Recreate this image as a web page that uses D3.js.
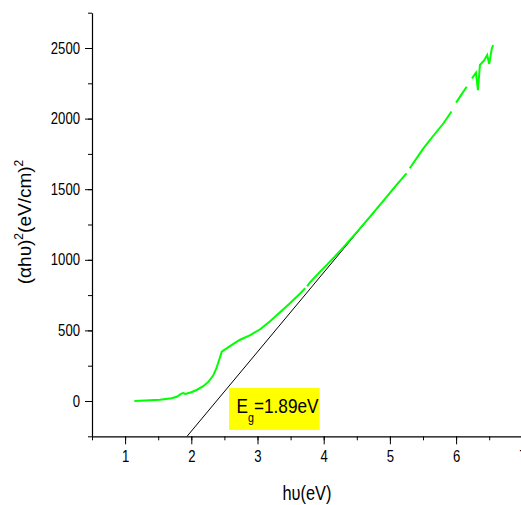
<!DOCTYPE html>
<html lang="en">
<head>
    <title>Tauc plot</title>
    <meta charset="utf-8">
    <script src="https://d3js.org/d3.v7.min.js"></script>
    <style>
        body { margin: 0; background: #fff; }
        text { font-family: "Liberation Sans", Arial, sans-serif; fill: #000; }
    </style>
</head>
<body>
<div id="chart"></div>
<script>
    // measured curve (alpha*h*nu)^2 vs photon energy, null = gap in the trace
    const energy = [1.14, 1.30, 1.53, 1.70, 1.78, 1.85, 1.88, 1.91, 2.00, 2.08, 2.18, 2.26, 2.33, 2.38, 2.42, 2.46,
        2.59, 2.73, 2.89, 3.04, 3.19, 3.34, 3.49, 3.64, 3.72, 3.73, 3.75, 3.79, 3.92, 4.05, 4.15, 4.30, 4.50, 4.70, 4.90, 5.10, 5.25,
        5.27, 5.30, 5.50, 5.65, 5.81, 5.93, 5.96, 6.00, 6.08, 6.16, 6.20, 6.24, 6.30, 6.33, 6.36, 6.42, 6.47, 6.50, 6.54, 6.56];
    const absorb = [0, 3, 9, 20, 30, 52, 56, 50, 62, 78, 105, 137, 180, 232, 290, 349,
        390, 432, 467, 508, 565, 628, 692, 760, 798, null, 812, 838, 903, 966, 1014, 1090, 1196, 1306, 1418, 1530, 1612,
        null, 1648, 1785, 1875, 1967, 2050, null, 2113, 2170, 2226, null, 2285, 2325, 2202, 2380, 2410, 2450, 2387, 2498, 2521];

    // linear extrapolation line
    const fitX = [1.936, 5.228];
    const fitY = [-250, 1600];

    const xTicks = [1, 2, 3, 4, 5, 6, 7];
    const yTicks = [0, 500, 1000, 1500, 2000, 2500];
    const gapLabel = "=1.89eV";
    // annotation box corners in data units
    const boxX = [2.57, 3.94];
    const boxY = [92, -205];

    const W = 521, H = 505;
    const margin = {top: 12.7, right: -1.3, bottom: 68.7, left: 92};
    const width = W - margin.left - margin.right,
        height = H - margin.top - margin.bottom;
    const narrow = 0.82; // condensed look of the original lettering

    const svg = d3.select("#chart").append("svg")
        .attr("width", W).attr("height", H);
    const g = svg.append("g").attr("transform", `translate(${margin.left},${margin.top})`);

    const x = d3.scaleLinear().domain([0.5, 7]).range([0, width]);
    const y = d3.scaleLinear().domain([-250, 2750]).range([height, 0]);

    // annotation box
    g.append("rect")
        .attr("x", x(boxX[0])).attr("y", y(boxY[0]))
        .attr("width", x(boxX[1]) - x(boxX[0]))
        .attr("height", y(boxY[1]) - y(boxY[0]))
        .attr("fill", "#ffff00");
    const lab = g.append("text")
        .attr("transform", `translate(${x(boxX[0]) + 7.5},${y(boxY[0]) + 25}) scale(${narrow},1)`)
        .style("font-size", "21px");
    lab.append("tspan").text("E");
    lab.append("tspan").attr("dy", 9).style("font-size", "13px").text("g");
    lab.append("tspan").attr("dy", -9).text(gapLabel);

    // fit line
    g.append("line")
        .attr("x1", x(fitX[0])).attr("y1", y(fitY[0]))
        .attr("x2", x(fitX[1])).attr("y2", y(fitY[1]))
        .attr("stroke", "#000").attr("stroke-width", 1);

    // data curve
    const pts = energy.map((e, i) => [e, absorb[i]]);
    g.append("path")
        .datum(pts)
        .attr("fill", "none")
        .attr("stroke", "#00ff00")
        .attr("stroke-width", 2)
        .attr("d", d3.line().defined(d => d[1] !== null).x(d => x(d[0])).y(d => y(d[1])));

    // axes
    const yMinor = d3.range(-250, 2751, 250);
    const xMinor = d3.range(0.5, 7.01, 0.5);

    g.append("g")
        .call(d3.axisLeft(y).tickValues(yMinor).tickSize(4).tickSizeOuter(0).tickFormat(""))
        .call(a => a.select(".domain").attr("stroke-width", 1.2));
    g.append("g")
        .call(d3.axisLeft(y).tickValues(yTicks).tickSize(7).tickPadding(5).tickFormat(d3.format("d")))
        .call(a => a.select(".domain").remove())
        .selectAll("text")
        .style("font-size", "16px")
        .attr("x", -12 / narrow)
        .attr("transform", `scale(${narrow},1)`);

    g.append("g").attr("transform", `translate(0,${height})`)
        .call(d3.axisBottom(x).tickValues(xMinor).tickSize(4).tickSizeOuter(0).tickFormat(""))
        .call(a => a.select(".domain").attr("stroke-width", 1.2));
    g.append("g").attr("transform", `translate(0,${height})`)
        .call(d3.axisBottom(x).tickValues(xTicks).tickSize(8).tickPadding(6).tickFormat(d3.format("d")))
        .call(a => a.select(".domain").remove())
        .selectAll("text")
        .style("font-size", "16px")
        .attr("transform", `scale(${narrow},1)`);

    // axis titles
    svg.append("text")
        .attr("transform", `translate(307,500) scale(${narrow},1)`)
        .attr("text-anchor", "middle")
        .style("font-size", "20px")
        .text("h\u03c5(eV)");

    const yl = svg.append("text")
        .attr("transform", "translate(31,222) rotate(-90)")
        .attr("text-anchor", "middle")
        .style("font-size", "19px");
    yl.append("tspan").text("(\u03b1h\u03c5)");
    yl.append("tspan").attr("dy", -8).style("font-size", "12px").text("2");
    yl.append("tspan").attr("dy", 8).text("(eV/cm)");
    yl.append("tspan").attr("dy", -8).style("font-size", "12px").text("2");
</script>
</body>
</html>
